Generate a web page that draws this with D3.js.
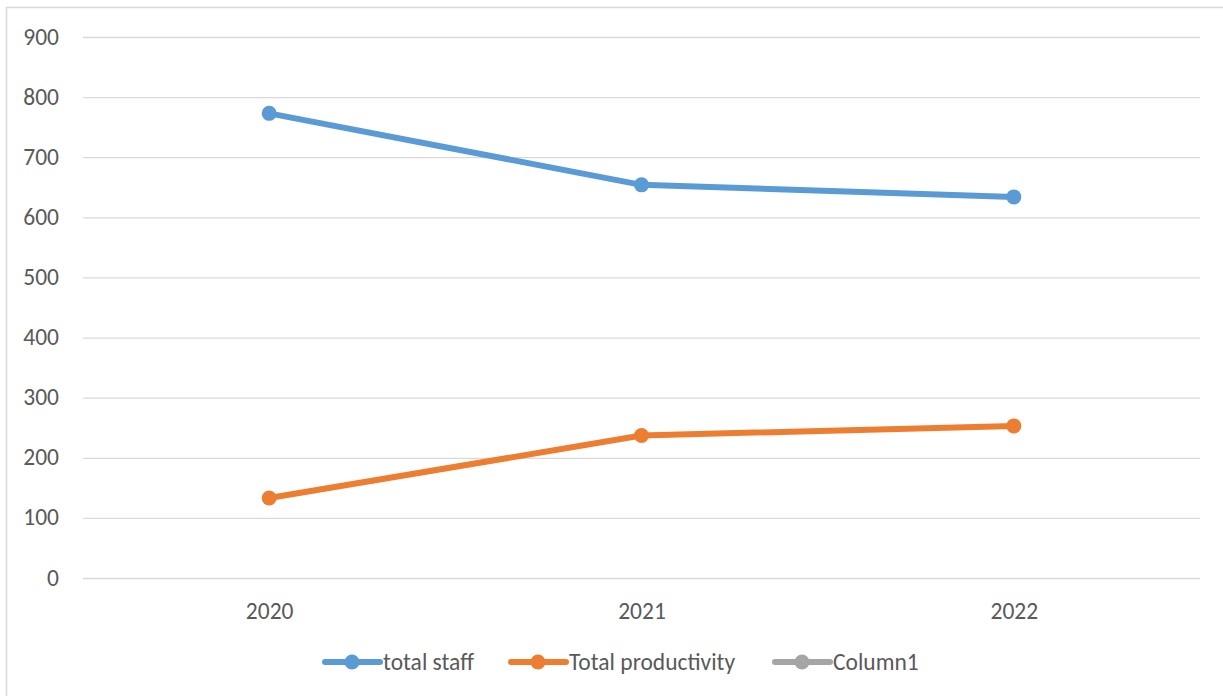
<!DOCTYPE html>
<html>
<head>
<meta charset="utf-8">
<script src="https://cdn.jsdelivr.net/npm/d3@7"></script>
<style>
  html, body { margin: 0; padding: 0; background: #fff; }
  svg { display: block; }
  text { font-family: Carlito, Lato, "Liberation Sans", sans-serif; fill: #595959; }
</style>
</head>
<body>
<svg id="chart" width="1223" height="696"></svg>
<script>
// Yearly figures
const years = ["2020", "2021", "2022"];
const totalStaff = [773, 654, 634];
const totalProductivity = [133, 237, 253];
const column1 = [null, null, null];
const yTicks = [0, 100, 200, 300, 400, 500, 600, 700, 800, 900];

const seriesNames = ["total staff", "Total productivity", "Column1"];
const seriesColors = ["#5B9BD5", "#ED7D31", "#A5A5A5"];
const seriesValues = [totalStaff, totalProductivity, column1];

const FONT = 'Carlito, Lato, "Liberation Sans", sans-serif';
const svg = d3.select("#chart");
const W = 1223, H = 696;
const plot = { left: 83, right: 1200, top: 37, bottom: 578 };

// Outer chart frame
svg.append("rect")
  .attr("x", 6.5).attr("y", 7.5)
  .attr("width", W).attr("height", H)
  .attr("fill", "#fff")
  .attr("stroke", "#D9D9D9").attr("stroke-width", 1.5);

const x = d3.scalePoint().domain(years).range([plot.left, plot.right]).padding(0.5);
const y = d3.scaleLinear().domain([0, 900]).range([plot.bottom, plot.top]);

// Horizontal gridlines + y labels
const yAxis = d3.axisLeft(y).tickValues(yTicks)
  .tickSize(-(plot.right - plot.left)).tickPadding(24);
const gy = svg.append("g").attr("transform", `translate(${plot.left},0)`).call(yAxis);
gy.select(".domain").remove();
gy.selectAll(".tick line").attr("stroke", "#D9D9D9").attr("stroke-width", 1.3);
gy.selectAll(".tick text")
  .attr("font-size", 23.5).attr("fill", "#595959").attr("dy", "0.3em")
  .style("font-family", FONT);

// Category labels
const xAxis = d3.axisBottom(x).tickSize(0).tickPadding(24);
const gx = svg.append("g").attr("transform", `translate(0,${plot.bottom})`).call(xAxis);
gx.select(".domain").remove();
gx.selectAll(".tick text")
  .attr("font-size", 23.5).attr("fill", "#595959")
  .style("font-family", FONT);

// Series lines and markers
const line = d3.line()
  .defined(d => d.v != null)
  .x(d => x(d.year)).y(d => y(d.v));

seriesValues.forEach((vals, i) => {
  const pts = years.map((yr, j) => ({ year: yr, v: vals[j] }));
  svg.append("path")
    .datum(pts)
    .attr("d", line)
    .attr("fill", "none")
    .attr("stroke", seriesColors[i])
    .attr("stroke-width", 6)
    .attr("stroke-linejoin", "round")
    .attr("stroke-linecap", "round");
  svg.selectAll(null)
    .data(pts.filter(d => d.v != null))
    .enter().append("circle")
    .attr("cx", d => x(d.year)).attr("cy", d => y(d.v))
    .attr("r", 7.5)
    .attr("fill", seriesColors[i]);
});

// Legend
const legendY = 662;
const legendX = [325, 511, 775];
seriesNames.forEach((name, i) => {
  const g = svg.append("g").attr("transform", `translate(${legendX[i]},${legendY})`);
  g.append("line")
    .attr("x1", 0).attr("x2", 55).attr("y1", 0).attr("y2", 0)
    .attr("stroke", seriesColors[i]).attr("stroke-width", 6)
    .attr("stroke-linecap", "round");
  g.append("circle").attr("cx", 27).attr("cy", 0).attr("r", 7.5).attr("fill", seriesColors[i]);
  g.append("text")
    .attr("x", 58).attr("y", 0).attr("dy", "0.33em")
    .attr("font-size", 23.5)
    .text(name);
});
</script>
</body>
</html>
